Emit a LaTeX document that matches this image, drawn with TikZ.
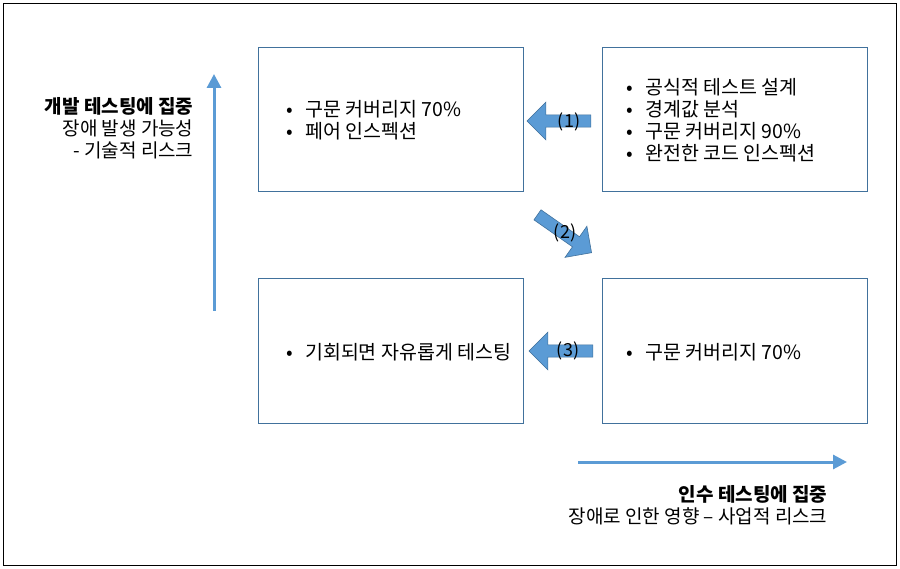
\documentclass[tikz,border=0pt]{standalone}
\usepackage{fontspec}
\setmainfont{Noto Sans CJK KR}
\usetikzlibrary{shapes.arrows,arrows.meta}
\definecolor{boxc}{HTML}{41719C}
\definecolor{arrc}{HTML}{5B9BD5}
\tikzset{
 pbox/.style={draw=boxc,line width=1pt,minimum width=265pt,minimum height=144pt,inner sep=0pt},
 btxt/.style={align=left,anchor=west,font=\fontsize{19.5}{22}\selectfont},
 barrow/.style={single arrow,fill=arrc,draw=boxc,line width=0.6pt,minimum height=64pt,minimum width=38pt,single arrow head extend=9pt,inner sep=4pt},
 axis/.style={draw=arrc,line width=3pt,-{Triangle[length=14pt,width=14pt]}},
 lbl/.style={font=\fontsize{18}{20}\selectfont},
 side/.style={align=right,font=\fontsize{19}{22}\selectfont}
}
\begin{document}
\begin{tikzpicture}[x=1pt,y=-1pt]
\useasboundingbox (0,0) rectangle (900,569);
\node[draw=black,line width=0.8pt,minimum width=893pt,minimum height=562pt,anchor=north west] (frame) at (3,3) {};
\node[pbox] (b1) at (390.5,120) {};
\node[pbox] (b2) at (734.5,120) {};
\node[pbox] (b3) at (390.5,351) {};
\node[pbox] (b4) at (734.5,351) {};
\node[btxt] (t1) at (283,120) {•\hspace{12pt}구문 커버리지 70\%\\•\hspace{12pt}페어 인스펙션};
\node[btxt] (t2) at (623,120) {•\hspace{12pt}공식적 테스트 설계\\•\hspace{12pt}경계값 분석\\•\hspace{12pt}구문 커버리지 90\%\\•\hspace{12pt}완전한 코드 인스펙션};
\node[btxt] (t3) at (283,352) {•\hspace{12pt}기회되면 자유롭게 테스팅};
\node[btxt] (t4) at (623,352) {•\hspace{12pt}구문 커버리지 70\%};
\node[barrow,shape border rotate=180] (a1) at (562,121) {};
\node[lbl] (l1) at (569,122) {(1)};
\node[barrow,rotate=-35,minimum height=66pt] (a2) at (562,232) {};
\node[lbl] (l2) at (565,233) {(2)};
\node[barrow,shape border rotate=180] (a3) at (564,351) {};
\node[lbl] (l3) at (568,351) {(3)};
\coordinate (v0) at (214,311);
\coordinate (v1) at (214,74);
\draw[axis] (v0) -- (v1);
\coordinate (h0) at (578,462);
\coordinate (h1) at (847,462);
\draw[axis] (h0) -- (h1);
\node[side,anchor=north east] (s1) at (197,94) {\textbf{개발 테스팅에 집중}\\장애 발생 가능성\\- 기술적 리스크};
\node[side,anchor=north east] (s2) at (831,482) {\textbf{인수 테스팅에 집중}\\장애로 인한 영향 – 사업적 리스크};
\end{tikzpicture}
\end{document}
